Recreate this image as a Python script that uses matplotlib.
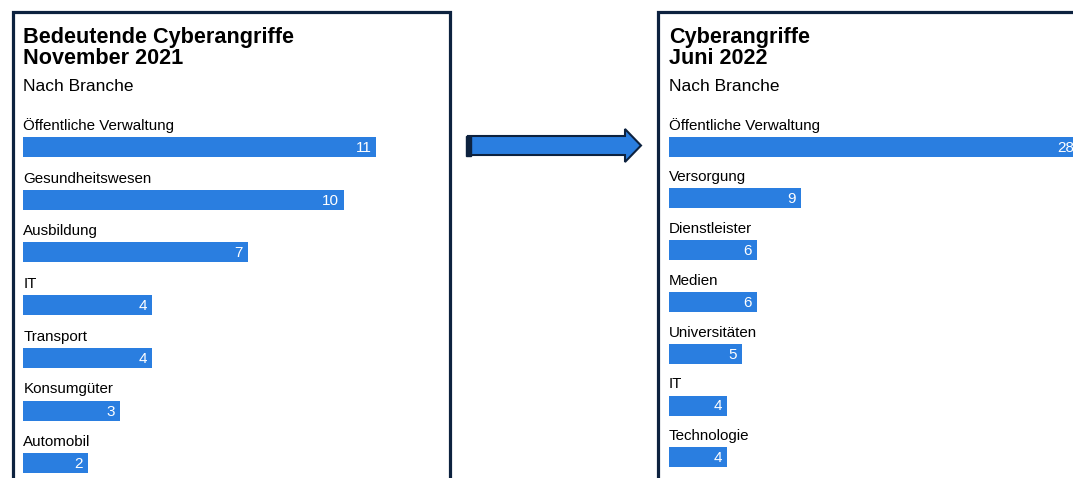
import numpy as np
import matplotlib
matplotlib.use("Agg")
import matplotlib.pyplot as plt
from matplotlib.patches import Rectangle, Polygon

plt.rcParams['font.family'] = ['Liberation Sans', 'DejaVu Sans']

# Data
left_title = "Bedeutende Cyberangriffe\nNovember 2021"
left_cats = ["Öffentliche Verwaltung", "Gesundheitswesen", "Ausbildung", "IT",
             "Transport", "Konsumgüter", "Automobil"]
left_vals = [11, 10, 7, 4, 4, 3, 2]

right_title = "Cyberangriffe\nJuni 2022"
right_cats = ["Öffentliche Verwaltung", "Versorgung", "Dienstleister", "Medien",
              "Universitäten", "IT", "Technologie"]
right_vals = [28, 9, 6, 6, 5, 4, 4]

subtitle = "Nach Branche"
BAR = "#2a7ee0"
NAVY = "#0d223f"

W, H = 1073, 478
fig = plt.figure(figsize=(W / 100, H / 100), dpi=100)


def fx(px):
    return px / W


def fy(py):
    # py measured from the top
    return 1 - py / H


def panel(x0, x1, title, cats, vals, px_per_unit, first_y, pitch):
    fig.add_artist(Rectangle((fx(x0), fy(H + 20)), fx(x1 - x0), (H + 20 - 11.5) / H,
                             transform=fig.transFigure, fill=False,
                             edgecolor=NAVY, linewidth=2.3, zorder=5))
    fig.text(fx(x0 + 10.8), fy(26.5), title, fontsize=15.6, fontweight='bold',
             va='top', ha='left', linespacing=1.03)
    fig.text(fx(x0 + 10.8), fy(86.5), subtitle, fontsize=12.5, va='center', ha='left')

    ax_left = x0 + 10.8
    ax = fig.add_axes([fx(ax_left), 0, fx(W - ax_left), 1])
    ax.set_axis_off()
    ax.set_xlim(0, (W - ax_left) / px_per_unit)
    top = -first_y / pitch
    bottom = (H - first_y) / pitch
    ax.set_ylim(bottom, top)
    y = np.arange(len(cats))
    ax.barh(y, vals, height=20 / pitch, color=BAR, clip_on=False)
    for yi, c, v in zip(y, cats, vals):
        ax.text(0, yi - 21 / pitch, c, fontsize=10.9, va='center', ha='left')
        ax.text(v - 5 / px_per_unit, yi + 1 / pitch, str(v), fontsize=11, color='white',
                va='center', ha='right')


panel(12.5, 449.5, left_title, left_cats, left_vals, 32.1, 147, 52.7)
panel(658, W + 20, right_title, right_cats, right_vals, 14.65, 146.5, 51.8)

# arrow between the panels
pts = [(468, 136), (625, 136), (625, 129), (641, 145.5), (625, 162),
       (625, 155), (468, 155)]
fig.add_artist(Polygon([(fx(x), fy(y)) for x, y in pts], closed=True,
                       transform=fig.transFigure, facecolor=BAR,
                       edgecolor=NAVY, linewidth=1.5))
fig.add_artist(Rectangle((fx(466), fy(156)), fx(5), 20 / H,
                         transform=fig.transFigure, color=NAVY))

fig.savefig("out.png", dpi=100, facecolor='white')
